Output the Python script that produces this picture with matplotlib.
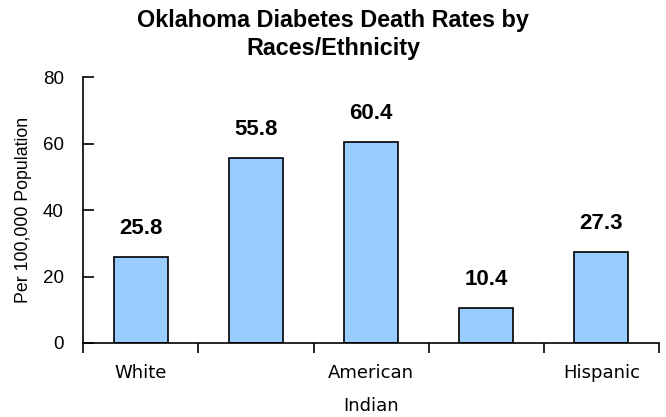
import matplotlib.pyplot as plt
import numpy as np

# Diabetes death rates per 100,000 by race/ethnicity
categories = ['White', 'Black', 'American Indian', 'Asian', 'Hispanic']
rates = [25.8, 55.8, 60.4, 10.4, 27.3]
# Only every other category gets a label on the axis
tick_labels = ['White', '', 'American\nIndian', '', 'Hispanic']

plt.rcParams['font.family'] = ['Liberation Sans', 'DejaVu Sans']

fig = plt.figure(figsize=(6.66, 4.17), dpi=100)
ax = fig.add_axes([0.125, 0.1775, 0.8645, 0.6375])

x = np.arange(len(categories))
bars = ax.bar(x, rates, width=0.47, color='#99CCFF', edgecolor='black', linewidth=1.2)

for bar, value in zip(bars, rates):
    ax.annotate(f'{value:.1f}', (bar.get_x() + bar.get_width() / 2, bar.get_height()),
                xytext=(0, 13), textcoords='offset points',
                ha='center', va='bottom', fontsize=16, fontweight='bold')

ax.set_xlim(-0.5, len(categories) - 0.5)
ax.set_ylim(0, 80)
ax.set_yticks([0, 20, 40, 60, 80])

# category separators as tick marks, labels centred under bars
ax.set_xticks(np.arange(len(categories) + 1) - 0.5)
ax.set_xticklabels([])
ax.set_xticks(x, minor=True)
ax.set_xticklabels(tick_labels, minor=True, fontsize=13, linespacing=2.05,
                   va='top', family='DejaVu Sans')
ax.tick_params(axis='x', which='minor', length=0, pad=15)
ax.tick_params(axis='x', which='major', direction='out', length=7, width=1.2)
ax.tick_params(axis='y', direction='in', length=8, width=1.2, pad=14, labelsize=13.5)

for side in ['top', 'right']:
    ax.spines[side].set_visible(False)
for side in ['left', 'bottom']:
    ax.spines[side].set_linewidth(1.2)

ax.set_ylabel('Per 100,000 Population', fontsize=12.8, labelpad=8)

fig.suptitle('Oklahoma Diabetes Death Rates by\nRaces/Ethnicity', x=0.5, y=0.978,
             fontsize=16.8, fontweight='bold', linespacing=1.25, va='top')

fig.savefig('out.png', dpi=100)
